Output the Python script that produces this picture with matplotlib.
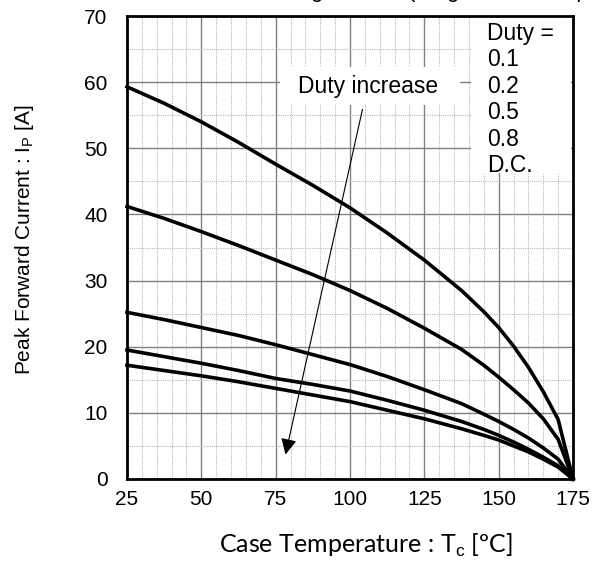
import matplotlib.pyplot as plt
from matplotlib.patches import Rectangle

plt.rcParams['font.family'] = ['Liberation Sans', 'DejaVu Sans']
plt.rcParams['mathtext.fontset'] = 'custom'
plt.rcParams['mathtext.rm'] = 'Liberation Sans'
plt.rcParams['mathtext.default'] = 'rm'

# case temperature [degC]
temps = [25, 37.5, 50, 62.5, 75, 87.5, 100, 112.5, 125, 137.5, 145, 150, 155, 160, 165, 170, 175]

# peak forward current [A] per duty ratio
ip_duty_01 = [59.3, 56.8, 54.0, 50.9, 47.6, 44.4, 41.0, 37.2, 33.1, 28.5, 25.3, 22.9, 20.1, 16.9, 13.2, 9.0, 0]
ip_duty_02 = [41.2, 39.4, 37.4, 35.3, 33.1, 30.9, 28.5, 25.8, 22.8, 19.6, 17.2, 15.4, 13.5, 11.5, 9.1, 6.0, 0]
ip_duty_05 = [25.2, 24.1, 22.9, 21.7, 20.3, 18.8, 17.3, 15.5, 13.5, 11.4, 9.8, 8.7, 7.5, 6.2, 4.7, 3.0, 0]
ip_duty_08 = [19.5, 18.5, 17.5, 16.4, 15.2, 14.3, 13.3, 11.9, 10.4, 8.7, 7.5, 6.6, 5.6, 4.5, 3.3, 2.0, 0]
ip_dc = [17.2, 16.4, 15.6, 14.7, 13.7, 12.7, 11.7, 10.4, 9.1, 7.6, 6.6, 5.9, 5.0, 4.1, 3.0, 1.8, 0]

duty_labels = ["0.1", "0.2", "0.5", "0.8", "D.C."]
x_ticks = [25, 50, 75, 100, 125, 150, 175]
y_ticks = [0, 10, 20, 30, 40, 50, 60, 70]

fig = plt.figure(figsize=(6.02, 5.87), dpi=100)
ax = fig.add_axes([127 / 602, 108 / 587, 446 / 602, 463 / 587])

for ip in [ip_duty_01, ip_duty_02, ip_duty_05, ip_duty_08, ip_dc]:
    ax.plot(temps, ip, color="black", lw=2.6, solid_joinstyle="round", zorder=3, clip_on=False)

ax.set_xlim(25, 175)
ax.set_ylim(0, 70)
ax.set_xticks(x_ticks)
ax.set_yticks(y_ticks)
ax.set_xticks(range(25, 176, 5), minor=True)
ax.set_yticks(range(0, 71, 5), minor=True)
ax.tick_params(which="both", length=0, labelsize=15, colors="black")
ax.tick_params(axis="x", pad=8)
ax.tick_params(axis="y", pad=14)
ax.grid(which="major", color="#808080", lw=1.0, ls="-")
ax.grid(which="minor", color="#b8b8b8", lw=0.8, ls=(0, (1, 1)))
ax.set_axisbelow(True)
for sp in ax.spines.values():
    sp.set_linewidth(2.0)
    sp.set_zorder(5)

# duty list box in the upper right corner
ax.add_patch(Rectangle((140.7, 46.3), 33.6, 23.7, facecolor="white", edgecolor="none", zorder=2))
ax.text(146.1, 69.1, "Duty =\n" + "\n".join(duty_labels), fontsize=16.5, va="top", ha="left",
        linespacing=1.19, zorder=4)

# arrow pointing from low duty to D.C.
ax.annotate("", xy=(78.1, 3.3), xytext=(104.4, 56.3),
            arrowprops=dict(arrowstyle="-|>", color="black", lw=0.8, mutation_scale=24),
            zorder=4)
ax.add_patch(Rectangle((76.5, 56.6), 60.5, 5.7, facecolor="white", edgecolor="none", zorder=2))
ax.text(106.1, 59.3, "Duty increase", fontsize=16.5, ha="center", va="center", zorder=4)

ax.set_ylabel("Peak Forward Current : I$_{P}$ [A]", fontsize=15)
ax.yaxis.set_label_coords(-0.205, 0.516)
ax.set_xlabel("Case Temperature : T$_{c}$ [ºC]", fontsize=18, family=["Lato", "DejaVu Sans"])
ax.xaxis.set_label_coords(0.536, -0.115)

fig.text(0.59, 1.014, "Peak Forward Current Derating : I$_{P}$ - T$_{c}$ (Single Diode, Square Wave)",
         fontsize=16, ha="center", va="center")

fig.savefig("out.png", dpi=100)
